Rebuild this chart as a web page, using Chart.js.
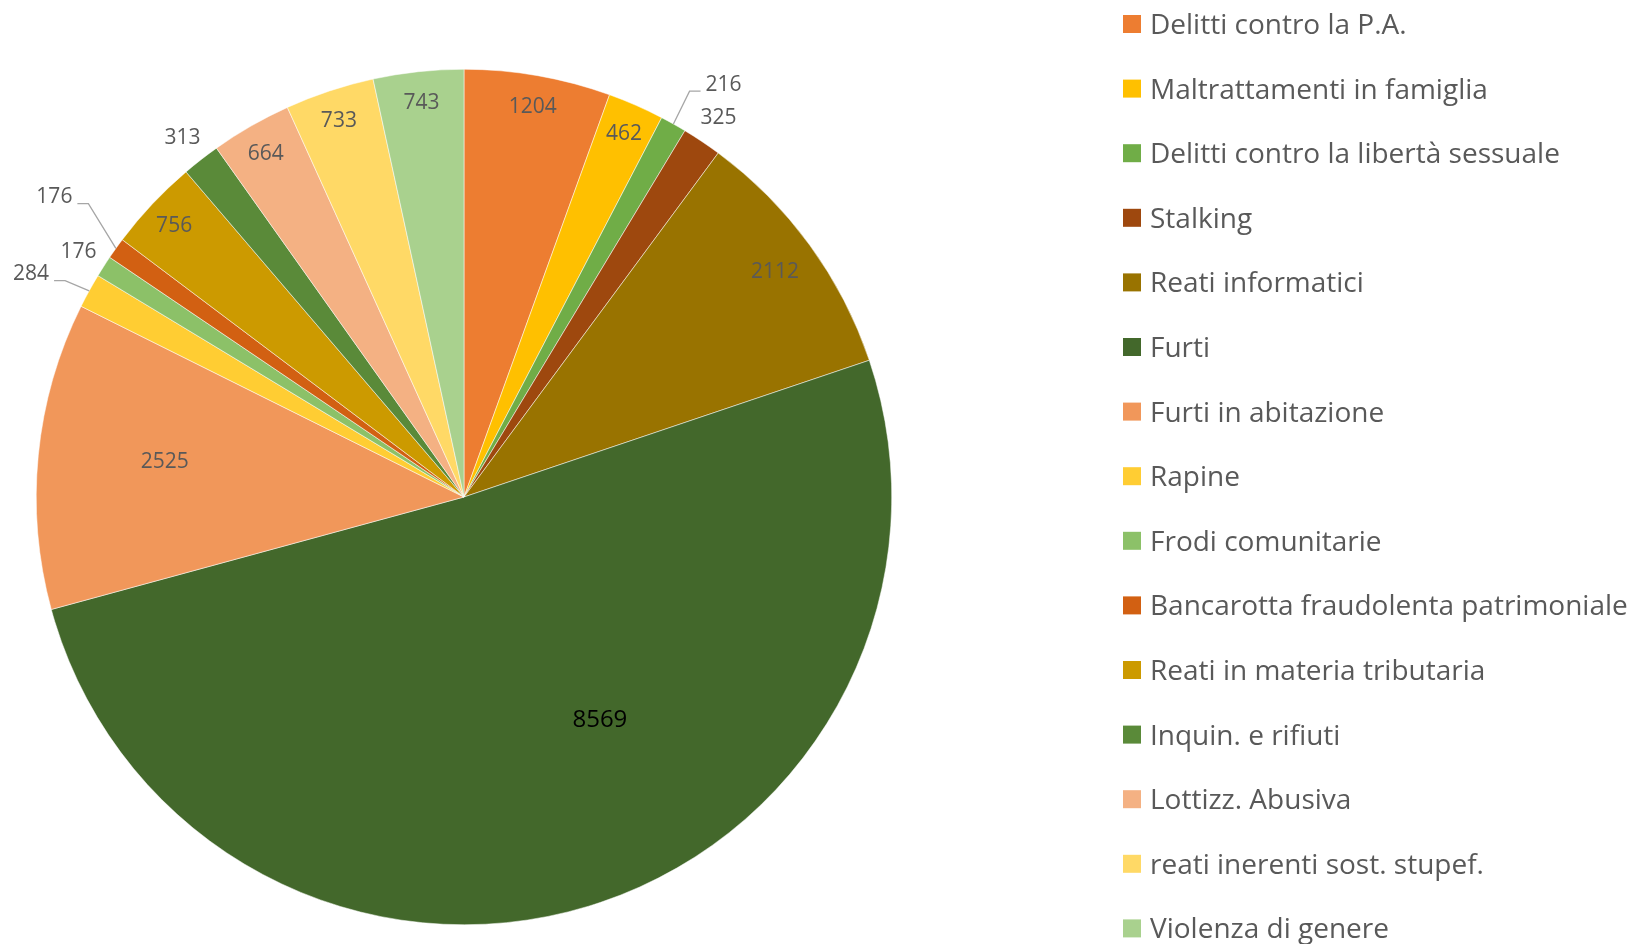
<!DOCTYPE html>
<html>
<head>
<meta charset="utf-8">
<script src="https://cdn.jsdelivr.net/npm/chart.js@4.4.1/dist/chart.umd.min.js"></script>
<style>
  html, body { margin: 0; background: #fff; }
  #wrap { width: 1632px; height: 944px; }
</style>
</head>
<body>
<div id="wrap"><canvas id="pieChart" width="1632" height="944"></canvas></div>
<script>
const categories = [
  "Delitti contro la P.A.",
  "Maltrattamenti in famiglia",
  "Delitti contro la libertà sessuale",
  "Stalking",
  "Reati informatici",
  "Furti",
  "Furti in abitazione",
  "Rapine",
  "Frodi comunitarie",
  "Bancarotta fraudolenta patrimoniale",
  "Reati in materia tributaria",
  "Inquin. e rifiuti",
  "Lottizz. Abusiva",
  "reati inerenti sost. stupef.",
  "Violenza di genere"
];
// slice sizes as drawn (the Furti slice is drawn bigger than its label says)
const sliceValues = [1204, 462, 216, 325, 2112, 11100, 2525, 284, 176, 176, 756, 313, 664, 733, 743];
// numbers printed on the slices
const valueLabels = ["1204", "462", "216", "325", "2112", "8569", "2525", "284", "176", "176", "756", "313", "664", "733", "743"];
const sliceColors = [
  "#ED7D31", "#FFC000", "#70AD47", "#9E480E", "#997300",
  "#43682B", "#F1975A", "#FFCD33", "#8CC168", "#D26012",
  "#CC9A00", "#5A8A39", "#F4B183", "#FFD966", "#A9D18E"
];

// where each number sits: r = fraction of radius, a = angle (deg from top, clockwise) if not mid-slice
const labelSpots = [
  { r: 0.93 }, { r: 0.93 }, { r: 1.142, a: 32.1, leader: true }, { r: 1.07 }, { r: 0.90 },
  { r: 0.608, a: 148.5 }, { r: 0.705, a: 277.0 }, { r: 1.14, a: 297.4, leader: true }, { r: 1.07 },
  { r: 1.189, a: 306.35, leader: true }, { r: 0.93 }, { r: 1.07 }, { r: 0.93 }, { r: 0.93 }, { r: 0.93 }
];

const labelFont = "21px 'Open Sans'";
const bigLabelFont = "24px 'Open Sans'";
const legendFont = "28px 'Open Sans'";

const sliceLabels = {
  id: "sliceLabels",
  afterDatasetsDraw(chart) {
    const ctx = chart.ctx;
    const arcs = chart.getDatasetMeta(0).data;
    ctx.save();
    ctx.textAlign = "center";
    ctx.textBaseline = "alphabetic";
    arcs.forEach((arc, i) => {
      const p = arc.getProps(["x", "y", "startAngle", "endAngle", "outerRadius"], true);
      const mid = (p.startAngle + p.endAngle) / 2;
      const spot = labelSpots[i];
      const ang = spot.a !== undefined ? (spot.a - 90) * Math.PI / 180 : mid;
      const lx = p.x + Math.cos(ang) * p.outerRadius * spot.r;
      const ly = p.y + Math.sin(ang) * p.outerRadius * spot.r;
      const text = valueLabels[i];
      ctx.font = i === 5 ? bigLabelFont : labelFont;
      if (spot.leader) {
        const w = ctx.measureText(text).width;
        const ex = p.x + Math.cos(mid) * p.outerRadius;
        const ey = p.y + Math.sin(mid) * p.outerRadius;
        const side = lx > ex ? -1 : 1;
        const edge = lx + side * w / 2;
        const yy = ly + 8;
        ctx.strokeStyle = "#A6A6A6";
        ctx.lineWidth = 1.3;
        ctx.beginPath();
        ctx.moveTo(ex, ey);
        ctx.lineTo(edge + side * 16, yy);
        ctx.lineTo(edge + side * 5, yy);
        ctx.stroke();
      }
      ctx.fillStyle = i === 5 ? "#000000" : "#595959";
      ctx.fillText(text, lx, ly + (i === 5 ? 8.5 : 7.5));
    });
    ctx.restore();
  }
};

const sideLegend = {
  id: "sideLegend",
  afterDraw(chart) {
    const ctx = chart.ctx;
    ctx.save();
    ctx.font = legendFont;
    ctx.textBaseline = "alphabetic";
    ctx.textAlign = "left";
    chart.data.labels.forEach((name, i) => {
      const cy = 24 + i * 64.6;
      ctx.fillStyle = chart.data.datasets[0].backgroundColor[i];
      ctx.fillRect(1123, cy - 9, 18, 18);
      ctx.fillStyle = "#595959";
      ctx.fillText(name, 1150, cy + 10);
    });
    ctx.restore();
  }
};

const pieChart = new Chart(document.getElementById("pieChart"), {
  type: "pie",
  data: {
    labels: categories,
    datasets: [
      {
        data: sliceValues,
        backgroundColor: sliceColors,
        borderColor: "#ffffff",
        borderWidth: 0.5,
      },
    ],
  },
  options: {
    responsive: false,
    animation: false,
    layout: { padding: { left: 36, top: 69, right: 740, bottom: 19 } },
    plugins: {
      legend: { display: false },
      tooltip: { enabled: false },
    },
  },
  plugins: [sliceLabels, sideLegend],
});
</script>
</body>
</html>
